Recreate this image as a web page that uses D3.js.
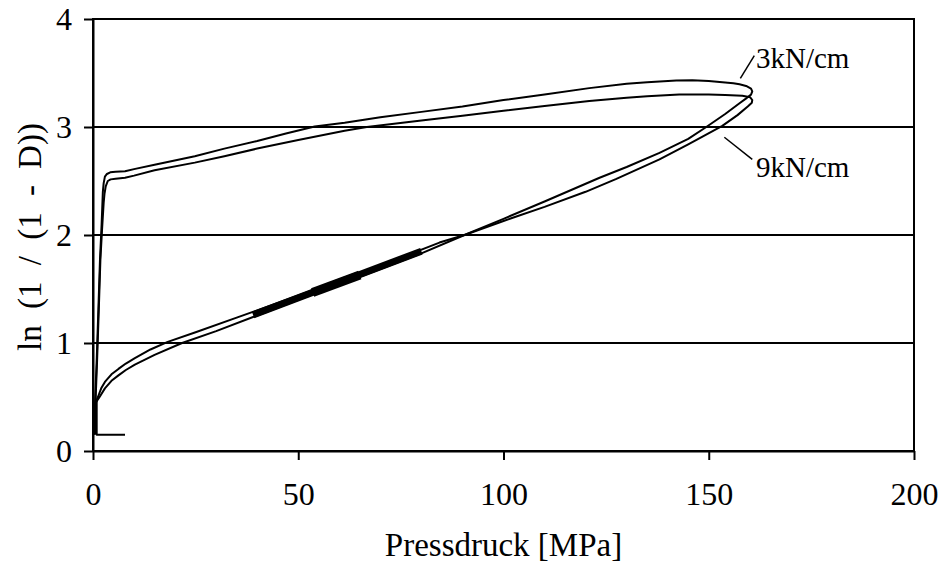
<!DOCTYPE html>
<html>
<head>
<meta charset="utf-8">
<script src="https://cdn.jsdelivr.net/npm/d3@7"></script>
<style>
  html, body { margin: 0; padding: 0; background: #fff; }
  svg { display: block; }
  text { font-family: "Liberation Serif", "Times New Roman", serif; fill: #000; }
</style>
</head>
<body>
<svg id="chart" width="941" height="570"></svg>
<script>
// ---- data ----
const xTicks = [0, 50, 100, 150, 200];
const yTicks = [0, 1, 2, 3, 4];
const gridValues = [1, 2, 3];
const xTitle = "Pressdruck [MPa]";
const yTitle = "ln (1 / (1 - D))";
const seriesNames = ["3kN/cm", "9kN/cm"];

// 3 kN/cm loop: [pressure MPa, ln(1/(1-D))]
const curve3kN = [
  [7.8,0.15],[0.9,0.15],[0.9,0.46],[1.1,0.49],[1.5,0.53],[2.0,0.58],[2.9,0.64],
  [4.5,0.71],[6.2,0.76],[8,0.81],[10.2,0.86],[14,0.94],
  [18.2,1.01],[25,1.10],[35,1.235],[45,1.37],[55,1.51],[65,1.65],[75,1.79],
  [84.4,1.93],[90.5,2.00],[100,2.15],[110,2.31],[123.4,2.53],[130,2.63],[138,2.76],
  [145,2.89],[149.4,3.00],[154,3.12],[157.5,3.22],[159.3,3.27],[160.3,3.30],
  [160.6,3.33],[160.3,3.355],[159.1,3.38],[157.5,3.395],[156,3.405],[150,3.425],
  [146,3.432],[142.1,3.43],[135,3.415],[130,3.40],
  [120.9,3.36],[110,3.30],[100,3.25],[90,3.19],[80,3.14],[70,3.09],[61.3,3.04],
  [54,3.005],[47,2.94],[40,2.87],[32,2.80],[24.8,2.73],
  [15,2.65],[10,2.61],[7.8,2.59],[5.5,2.585],[4.2,2.58],[3.4,2.565],[2.9,2.54],
  [2.6,2.48],[2.4,2.40],[2.1,2.10],[1.7,1.77],[1.3,1.30],
  [0.9,0.84],[0.5,0.45],[0.2,0.15]
];
// 9 kN/cm loop
const curve9kN = [
  [0.5,0.15],[0.5,0.44],[0.9,0.46],[1.6,0.50],[2.9,0.58],[4.5,0.65],[6.2,0.70],
  [8,0.75],[10.2,0.80],[15,0.89],
  [21.7,1.00],[30,1.11],[40,1.255],[50,1.40],[60,1.54],[70,1.685],[80,1.83],
  [90.5,2.00],[100,2.13],[110,2.26],[120,2.40],[127.5,2.52],[138,2.70],[145,2.84],
  [153.3,3.01],[157,3.11],[159.5,3.19],[160.5,3.225],[160.6,3.25],[160.1,3.275],
  [158.2,3.29],[154,3.297],
  [150,3.30],[142.8,3.30],[135,3.285],[130,3.27],[120.9,3.24],[110,3.195],[100,3.15],
  [90,3.105],[80,3.06],[66.7,3.00],
  [61.3,2.965],[50,2.88],[40,2.80],[32,2.73],[24.8,2.67],[15,2.60],[10,2.55],
  [7.8,2.53],[5.5,2.52],[4.3,2.515],[3.6,2.50],
  [3.1,2.45],[2.8,2.38],[2.6,2.30],[2.2,2.05],[1.8,1.77],[1.4,1.30],[1.0,0.84],[0.6,0.44],
  [0.1,0.40],[0.1,0.15]
];
// thick overlay on the loading branch
const fitBand = [[39,1.26],[80,1.85]];
const fitBandMid = [[53.5,1.467],[65,1.63]];

// label anchors: leader start, leader end, text position
const label3kN = { from: [157.7,3.45], to: [161.1,3.66], text: [161.5,3.55] };
const label9kN = { from: [153.8,2.905], to: [160.6,2.70], text: [161.5,2.54] };

// ---- layout ----
const svg = d3.select("#chart");
const mLeft = 93, mRight = 914, mTop = 19, mBottom = 451;
const x = d3.scaleLinear().domain([0, 200]).range([mLeft, mRight]);
const y = d3.scaleLinear().domain([0, 4]).range([mBottom, mTop]);

// gridlines
svg.append("g").selectAll("line").data(gridValues).join("line")
  .attr("x1", mLeft).attr("x2", mRight)
  .attr("y1", d => y(d)).attr("y2", d => y(d))
  .attr("stroke", "#000").attr("stroke-width", 2);

// frame
svg.append("rect")
  .attr("x", mLeft).attr("y", mTop)
  .attr("width", mRight - mLeft).attr("height", mBottom - mTop)
  .attr("fill", "none").attr("stroke", "#000").attr("stroke-width", 2);

// axes
const tickFont = 32;
const yAxis = svg.append("g").attr("transform", `translate(${mLeft},0)`)
  .call(d3.axisLeft(y).tickValues(yTicks).tickFormat(d3.format("d"))
    .tickSize(9).tickSizeOuter(0).tickPadding(12));
const xAxis = svg.append("g").attr("transform", `translate(0,${mBottom})`)
  .call(d3.axisBottom(x).tickValues(xTicks).tickFormat(d3.format("d"))
    .tickSize(9).tickSizeOuter(0).tickPadding(22));
[yAxis, xAxis].forEach(g => {
  g.select(".domain").attr("stroke", "#000").attr("stroke-width", 2);
  g.selectAll(".tick line").attr("stroke", "#000").attr("stroke-width", 2);
  g.selectAll(".tick text")
    .style("font-family", '"Liberation Serif", "Times New Roman", serif')
    .style("font-size", tickFont + "px").attr("fill", "#000");
});

// curves
const line = d3.line().x(d => x(d[0])).y(d => y(d[1])).curve(d3.curveLinear);
[curve3kN, curve9kN].forEach(c => {
  svg.append("path").datum(c).attr("d", line)
    .attr("fill", "none").attr("stroke", "#000")
    .attr("stroke-width", 2).attr("stroke-linejoin", "round");
});
svg.append("path").datum(fitBand).attr("d", line)
  .attr("fill", "none").attr("stroke", "#000").attr("stroke-width", 7);
svg.append("path").datum(fitBandMid).attr("d", line)
  .attr("fill", "none").attr("stroke", "#000").attr("stroke-width", 9);

// labels
[[label3kN, seriesNames[0]], [label9kN, seriesNames[1]]].forEach(([l, name]) => {
  svg.append("line")
    .attr("x1", x(l.from[0])).attr("y1", y(l.from[1]))
    .attr("x2", x(l.to[0])).attr("y2", y(l.to[1]))
    .attr("stroke", "#000").attr("stroke-width", 1.5);
  svg.append("text").attr("x", x(l.text[0])).attr("y", y(l.text[1]))
    .style("font-size", "29px").text(name);
});

// titles
svg.append("text").attr("x", (mLeft + mRight) / 2).attr("y", 556)
  .attr("text-anchor", "middle").style("font-size", "33px").text(xTitle);
svg.append("text")
  .attr("transform", `translate(41,${(mTop + mBottom) / 2 + 2}) rotate(-90)`)
  .attr("text-anchor", "middle").style("font-size", "33px")
  .style("word-spacing", "8px").text(yTitle);
</script>
</body>
</html>
